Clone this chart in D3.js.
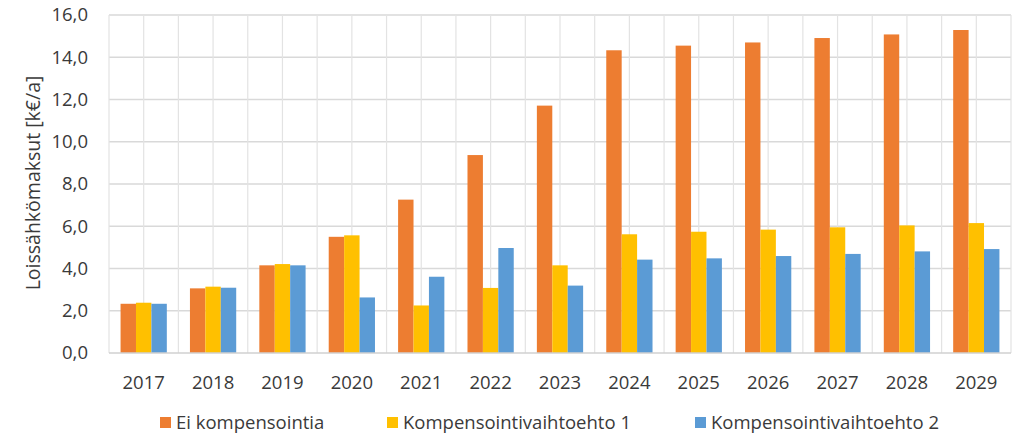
<!DOCTYPE html>
<html>
<head>
<meta charset="utf-8">
<script src="https://cdn.jsdelivr.net/npm/d3@7"></script>
<style>
  body { margin: 0; background: #fff; }
  text { font-family: "Open Sans", "Noto Sans", sans-serif; fill: #3a3a3a; }
</style>
</head>
<body>
<svg></svg>
<script>
let years = ['2017','2018','2019','2020','2021','2022','2023','2024','2025','2026','2027','2028','2029'];
let seriesNames = ['Ei kompensointia', 'Kompensointivaihtoehto 1', 'Kompensointivaihtoehto 2'];
let eiKomp = [2.33, 3.06, 4.15, 5.50, 7.26, 9.37, 11.71, 14.33, 14.55, 14.70, 14.91, 15.08, 15.29];
let vaihto1 = [2.38, 3.14, 4.21, 5.57, 2.25, 3.08, 4.15, 5.62, 5.74, 5.84, 5.95, 6.04, 6.15];
let vaihto2 = [2.33, 3.09, 4.15, 2.63, 3.61, 4.97, 3.19, 4.42, 4.48, 4.59, 4.69, 4.81, 4.92];
let yTicks = [0, 2, 4, 6, 8, 10, 12, 14, 16];
let colors = ['#ED7D31', '#FFC000', '#5B9BD5'];

let svgWidth = 1023, svgHeight = 442;
let margin = {left: 109, right: 12, top: 15, bottom: 89};
let width = svgWidth - margin.left - margin.right;
let height = svgHeight - margin.top - margin.bottom;

let svg = d3.select('svg')
            .attr('width', svgWidth)
            .attr('height', svgHeight)

let g = svg.append('g')
        .attr('transform', 'translate('+margin.left+','+margin.top+')');

let x = d3.scaleBand().domain(years).range([0, width]).padding(0);
let x1 = d3.scaleBand().domain(seriesNames).range([0, x.bandwidth()]).paddingInner(0).paddingOuter(0.75);
let y = d3.scaleLinear().domain([0, 16]).range([height, 0]);

let fmt = v => d3.format('.1f')(v).replace('.', ',');

// horizontal gridlines
g.selectAll('.hgrid')
 .data(yTicks.slice(1))
 .enter().append('line')
 .attr('x1', 0).attr('x2', width)
 .attr('y1', d => y(d)).attr('y2', d => y(d))
 .attr('stroke', '#D9D9D9').attr('stroke-width', 1.5)

// vertical gridlines at band edges and centres
let vlines = [];
years.forEach(yr => { vlines.push(x(yr)); vlines.push(x(yr) + x.bandwidth() / 2); });
vlines.push(width);
g.selectAll('.vgrid')
 .data(vlines)
 .enter().append('line')
 .attr('x1', d => d).attr('x2', d => d)
 .attr('y1', 0).attr('y2', height)
 .attr('stroke', '#E3E3E3').attr('stroke-width', 1.2)

// bars
let rows = years.map((yr, i) => ({year: yr, values: [eiKomp[i], vaihto1[i], vaihto2[i]]}));
let groups = g.selectAll('.grp')
  .data(rows)
  .enter().append('g')
  .attr('transform', d => 'translate('+x(d.year)+',0)')

groups.selectAll('rect')
  .data(d => d.values.map((v, i) => ({name: seriesNames[i], value: v, i: i})))
  .enter().append('rect')
  .attr('x', d => x1(d.name))
  .attr('width', x1.bandwidth())
  .attr('y', d => y(d.value))
  .attr('height', d => height - y(d.value))
  .attr('fill', d => colors[d.i])

// bottom axis line
g.append('line')
 .attr('x1', 0).attr('x2', width)
 .attr('y1', height).attr('y2', height)
 .attr('stroke', '#D0D0D0').attr('stroke-width', 1.5)

// y tick labels
g.selectAll('.ylab')
 .data(yTicks)
 .enter().append('text')
 .attr('x', -21)
 .attr('y', d => y(d))
 .attr('dy', '0.35em')
 .attr('text-anchor', 'end')
 .style('font-size', '18.5px')
 .text(d => fmt(d))

// x tick labels
g.selectAll('.xlab')
 .data(years)
 .enter().append('text')
 .attr('x', d => x(d) + x.bandwidth() / 2)
 .attr('y', height + 36)
 .attr('text-anchor', 'middle')
 .style('font-size', '18.5px')
 .text(d => d)

// y axis title
svg.append('text')
   .attr('transform', 'translate(40,'+(margin.top + 168)+') rotate(-90)')
   .attr('text-anchor', 'middle')
   .style('font-size', '19.5px')
   .text('Loissähkömaksut [k€/a]')

// legend
let legendX = [160, 387, 695];
let legend = svg.selectAll('.leg')
  .data(seriesNames)
  .enter().append('g')
  .attr('transform', (d, i) => 'translate('+legendX[i]+',417)')

legend.append('rect')
  .attr('width', 11).attr('height', 11)
  .attr('fill', (d, i) => colors[i])

legend.append('text')
  .attr('x', 16).attr('y', 6)
  .attr('dy', '0.35em')
  .style('font-size', '18.5px')
  .text(d => d)
</script>
</body>
</html>
